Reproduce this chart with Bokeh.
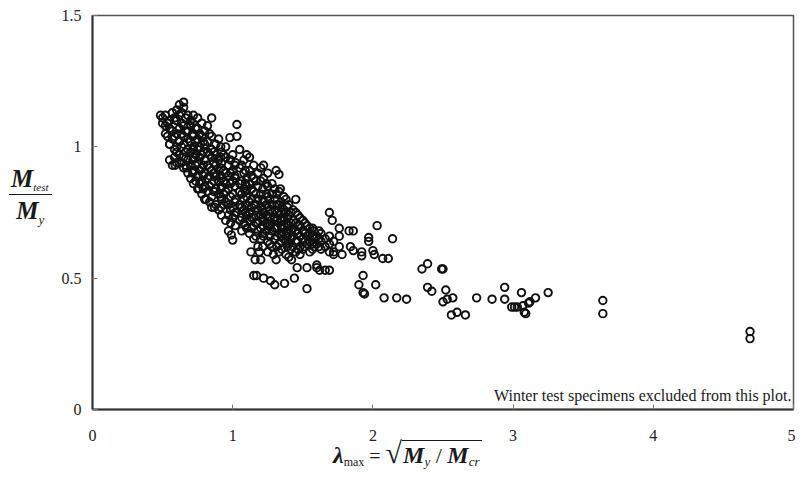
from bokeh.plotting import figure
from bokeh.models import Label, FixedTicker, NumeralTickFormatter, Range1d, ColumnDataSource, Div
from bokeh.layouts import column, row
from bokeh.embed import file_html
from bokeh.resources import INLINE

# ---------------- data ----------------
x_ticks = [0, 1, 2, 3, 4, 5]
y_ticks = [0, 0.5, 1, 1.5]

# dense cluster, column by column: lambda value -> list of M_test/M_y
cluster_lam = [0.50, 0.52, 0.55, 0.57, 0.60, 0.62, 0.65, 0.68, 0.70, 0.72, 0.75, 0.78, 0.80, 0.82,
               0.85, 0.88, 0.90, 0.92, 0.95, 0.97, 1.00, 1.02, 1.05, 1.08, 1.10, 1.12, 1.15, 1.18,
               1.20, 1.22, 1.25, 1.28, 1.30, 1.33, 1.35, 1.38, 1.40, 1.43, 1.45, 1.48, 1.50, 1.53,
               1.55, 1.58, 1.60, 1.63, 1.66, 1.69, 1.72, 1.76]
cluster_ratio = [
    [1.11, 1.09],
    [1.12, 1.08, 1.05],
    [1.10, 1.07, 1.01, 0.95],
    [1.13, 1.06, 1.03, 0.93],
    [1.14, 1.10, 1.05, 1.00, 0.98, 0.94],
    [1.16, 1.12, 1.07, 1.02, 0.97],
    [1.17, 1.15, 1.08, 1.04, 1.01, 0.96, 0.92],
    [1.12, 1.06, 1.03, 0.99, 0.95, 0.90],
    [1.10, 1.08, 1.02, 0.98, 0.93, 0.88],
    [1.12, 1.05, 1.00, 0.96, 0.91, 0.86],
    [1.11, 1.07, 1.03, 0.99, 0.94, 0.89, 0.84],
    [1.09, 1.04, 0.97, 0.92, 0.87, 0.82],
    [1.06, 1.01, 0.95, 0.90, 0.85, 0.80],
    [1.08, 1.02, 0.98, 0.93, 0.88, 0.83],
    [1.04, 0.99, 0.96, 0.91, 0.86, 0.81, 0.77],
    [1.01, 0.97, 0.93, 0.89, 0.84, 0.78],
    [1.03, 0.95, 0.91, 0.87, 0.82, 0.76],
    [0.98, 0.94, 0.88, 0.85, 0.80, 0.74],
    [1.00, 0.96, 0.90, 0.86, 0.83, 0.79, 0.72],
    [0.93, 0.89, 0.84, 0.78, 0.74],
    [0.97, 0.91, 0.87, 0.82, 0.77, 0.73],
    [0.94, 0.88, 0.80, 0.75, 0.70],
    [0.99, 0.92, 0.86, 0.83, 0.78, 0.72],
    [0.95, 0.90, 0.84, 0.80, 0.76, 0.71],
    [0.97, 0.88, 0.85, 0.81, 0.74, 0.69],
    [0.91, 0.86, 0.79, 0.75, 0.72, 0.67],
    [0.93, 0.88, 0.83, 0.78, 0.73, 0.70, 0.65],
    [0.90, 0.85, 0.80, 0.76, 0.71, 0.68, 0.62],
    [0.92, 0.87, 0.82, 0.77, 0.74, 0.69, 0.65],
    [0.88, 0.79, 0.75, 0.72, 0.66],
    [0.90, 0.85, 0.81, 0.77, 0.73, 0.70, 0.64, 0.60],
    [0.86, 0.82, 0.78, 0.75, 0.71, 0.68, 0.62],
    [0.84, 0.80, 0.76, 0.73, 0.69, 0.65],
    [0.83, 0.78, 0.74, 0.71, 0.67, 0.63, 0.60],
    [0.77, 0.72, 0.69, 0.66, 0.61],
    [0.75, 0.71, 0.68, 0.64, 0.59],
    [0.78, 0.74, 0.70, 0.67, 0.63, 0.58],
    [0.76, 0.72, 0.69, 0.66, 0.62],
    [0.75, 0.71, 0.68, 0.64, 0.60],
    [0.73, 0.70, 0.66, 0.62, 0.59],
    [0.72, 0.68, 0.65, 0.61],
    [0.70, 0.66, 0.63],
    [0.69, 0.67, 0.64, 0.60],
    [0.68, 0.65, 0.62],
    [0.66, 0.63, 0.55],
    [0.67, 0.64, 0.61],
    [0.65, 0.62],
    [0.66, 0.63, 0.60],
    [0.64, 0.59],
    [0.66, 0.62],
]

# second, interleaved set of cluster columns
cluster2_lam = [0.535, 0.585, 0.635, 0.665, 0.715, 0.735, 0.765, 0.79, 0.835, 0.865, 0.915, 0.935,
                0.985, 1.015, 1.065, 1.09, 1.135, 1.165, 1.215, 1.24, 1.265, 1.315, 1.345, 1.365,
                1.39, 1.415, 1.465, 1.515, 1.57, 1.615]
cluster2_ratio = [
    [1.09, 1.04],
    [1.11, 1.04, 0.99, 0.96],
    [1.13, 1.09, 1.05, 1.00, 0.94],
    [1.11, 1.06, 0.98, 0.93],
    [1.09, 1.04, 0.99, 0.95, 0.90],
    [1.07, 1.02, 0.97, 0.93, 0.87],
    [1.05, 1.00, 0.96, 0.91, 0.86],
    [1.02, 0.98, 0.93, 0.89, 0.84],
    [1.05, 0.97, 0.92, 0.89, 0.85, 0.79],
    [0.98, 0.94, 0.90, 0.87, 0.83],
    [1.00, 0.96, 0.92, 0.89, 0.84, 0.81, 0.77],
    [0.97, 0.91, 0.87, 0.82, 0.78],
    [0.95, 0.90, 0.86, 0.81, 0.76, 0.71],
    [0.93, 0.89, 0.85, 0.79, 0.74],
    [0.93, 0.87, 0.82, 0.77, 0.73, 0.68],
    [0.91, 0.86, 0.83, 0.78, 0.75, 0.70],
    [0.89, 0.84, 0.80, 0.77, 0.73, 0.69],
    [0.87, 0.82, 0.78, 0.74, 0.71, 0.66],
    [0.84, 0.80, 0.76, 0.73, 0.70, 0.67, 0.62],
    [0.86, 0.82, 0.78, 0.74, 0.71, 0.68],
    [0.80, 0.76, 0.73, 0.70, 0.66, 0.63],
    [0.82, 0.78, 0.75, 0.72, 0.69, 0.66, 0.62],
    [0.79, 0.75, 0.72, 0.70, 0.67, 0.64],
    [0.81, 0.76, 0.73, 0.70, 0.65],
    [0.77, 0.73, 0.70, 0.66, 0.62],
    [0.75, 0.71, 0.68, 0.65, 0.61],
    [0.74, 0.70, 0.67, 0.64, 0.61],
    [0.71, 0.67, 0.64, 0.62],
    [0.69, 0.66, 0.63, 0.61],
    [0.68, 0.65, 0.62],
]

# sparse points
sparse_lam = [0.485, 0.85, 1.03, 0.98, 1.03, 0.55, 0.59, 0.67, 0.76, 0.81, 0.87, 1.12, 1.22, 1.31, 1.33,
              1.34, 1.38, 1.45, 1.69, 1.71, 1.76, 1.78, 0.97, 0.99, 1.00, 1.13, 1.16, 1.20, 1.19, 1.29,
              1.31, 1.15, 1.17, 1.22, 1.27, 1.30, 1.37, 1.44, 1.53, 1.42, 1.46, 1.53, 1.60, 1.62, 1.66,
              1.69, 1.72, 1.83, 1.86, 2.03, 2.14, 1.97, 1.97, 1.84, 1.86, 1.92, 1.92, 2.00, 2.01, 2.07,
              2.11, 1.93, 1.90, 1.93, 1.94, 2.02, 2.08, 2.17, 2.24, 2.35, 2.39, 2.49, 2.50, 2.39, 2.42,
              2.52, 2.50, 2.53, 2.57, 2.56, 2.60, 2.66, 2.74, 2.85, 2.94, 2.94, 3.06, 3.25, 2.99, 3.01,
              3.03, 3.07, 3.11, 3.16, 3.08, 3.09, 3.12, 3.64, 3.64, 4.69, 4.69]
sparse_ratio = [1.12, 1.11, 1.085, 1.035, 1.04, 1.01, 0.93, 0.92, 0.84, 0.80, 0.77, 0.96, 0.93, 0.91, 0.895,
                0.84, 0.80, 0.80, 0.75, 0.72, 0.69, 0.59, 0.68, 0.665, 0.645, 0.60, 0.57, 0.57, 0.60, 0.59,
                0.57, 0.51, 0.51, 0.50, 0.49, 0.475, 0.48, 0.50, 0.46, 0.57, 0.54, 0.54, 0.54, 0.53, 0.53,
                0.53, 0.60, 0.68, 0.68, 0.70, 0.65, 0.655, 0.64, 0.62, 0.605, 0.60, 0.585, 0.605, 0.59, 0.575,
                0.575, 0.51, 0.475, 0.445, 0.44, 0.475, 0.425, 0.425, 0.42, 0.535, 0.555, 0.535, 0.535, 0.465, 0.45,
                0.455, 0.41, 0.42, 0.425, 0.36, 0.37, 0.36, 0.425, 0.42, 0.42, 0.465, 0.445, 0.445, 0.39, 0.39,
                0.39, 0.395, 0.405, 0.425, 0.37, 0.365, 0.41, 0.415, 0.365, 0.297, 0.27]

note = "Winter test specimens excluded from this plot."

# ---------------- build ----------------
lam = []
ratio = []
for cols, vals in ((cluster_lam, cluster_ratio), (cluster2_lam, cluster2_ratio)):
    for xv, ys in zip(cols, vals):
        for yv in ys:
            lam.append(xv)
            ratio.append(yv)
lam += sparse_lam
ratio += sparse_ratio

SERIF = "Liberation Serif"
INK = "#1a1a1a"

YDIV_W = 56
P_W = 795 - YDIV_W
P_H = 449
XDIV_OVERLAP = 16
XDIV_H = 461 - P_H + XDIV_OVERLAP

p = figure(width=P_W, height=P_H, output_backend="svg", toolbar_location=None,
           x_range=Range1d(0, 5), y_range=Range1d(0, 1.5),
           min_border_left=92 - YDIV_W, min_border_right=2, min_border_top=15,
           min_border_bottom=P_H - 409, margin=0)
p.xgrid.visible = False
p.ygrid.visible = False
p.background_fill_color = "white"
p.border_fill_color = "white"
p.outline_line_color = "#555555"
p.outline_line_width = 1.5

src = ColumnDataSource(dict(x=lam, y=ratio))
p.scatter("x", "y", source=src, marker="circle", size=7.5, fill_alpha=0,
          line_color="#111111", line_width=1.9)

for ax in (p.xaxis[0], p.yaxis[0]):
    ax.axis_line_color = "#333333"
    ax.axis_line_width = 2
    ax.major_tick_in = 5
    ax.major_tick_out = 0
    ax.major_tick_line_color = "#777777"
    ax.minor_tick_line_color = None
    ax.major_label_text_font = SERIF
    ax.major_label_text_font_size = "16px"
    ax.major_label_text_color = "#222222"
    ax.formatter = NumeralTickFormatter(format="0.[0]")

p.xaxis[0].ticker = FixedTicker(ticks=x_ticks)
p.yaxis[0].ticker = FixedTicker(ticks=y_ticks)
p.xaxis[0].major_label_standoff = 20
p.yaxis[0].major_label_standoff = 11

# note inside the plot
p.add_layout(Label(x=699, y=14, x_units="screen", y_units="screen", text=note,
                   text_font=SERIF, text_font_size="16px", text_align="right",
                   text_baseline="middle", text_color=INK))

# y axis label: M_test / M_y  (HTML fraction)
bi = "font-weight:bold;font-style:italic;"
ylabel_html = (
    f'<div style="margin-top:166px;margin-left:9px;display:inline-block;text-align:center;'
    f'font-family:\'{SERIF}\';color:{INK};line-height:1;">'
    f'<div style="border-bottom:1.4px solid {INK};padding:0 3px 3px 2px;">'
    f'<span style="{bi}font-size:25px;">M</span>'
    f'<span style="font-style:italic;font-size:11px;position:relative;top:4px;">test</span></div>'
    f'<div style="padding-top:3px;">'
    f'<span style="{bi}font-size:25px;">M</span>'
    f'<span style="font-style:italic;font-size:13px;position:relative;top:5px;">y</span></div>'
    f'</div>'
)
ydiv = Div(text=ylabel_html, width=YDIV_W, height=P_H, margin=0)

# x axis label: lambda_max = sqrt(M_y / M_cr)
xlabel_html = (
    f'<div style="margin-left:333px;margin-top:5px;white-space:nowrap;font-family:\'{SERIF}\';'
    f'color:{INK};line-height:1;">'
    f'<span style="{bi}font-size:24px;">λ</span>'
    f'<span style="font-size:12px;position:relative;top:3px;">max</span>'
    f'<span style="font-size:20px;"> = </span>'
    f'<span style="font-size:30px;">√</span>'
    f'<span style="display:inline-block;border-top:1.3px solid {INK};padding:2px 2px 0 1px;">'
    f'<span style="{bi}font-size:24px;">M</span>'
    f'<span style="font-style:italic;font-size:13px;position:relative;top:3px;">y</span>'
    f'<span style="font-size:22px;"> / </span>'
    f'<span style="{bi}font-size:24px;">M</span>'
    f'<span style="font-style:italic;font-size:13px;position:relative;top:3px;">cr</span>'
    f'</span></div>'
)
xdiv = Div(text=xlabel_html, width=795, height=XDIV_H, margin=(-XDIV_OVERLAP, 0, 0, 0))

layout = column(row(ydiv, p, spacing=0), xdiv, spacing=0)

open("out.html", "w").write(file_html(layout, INLINE))
